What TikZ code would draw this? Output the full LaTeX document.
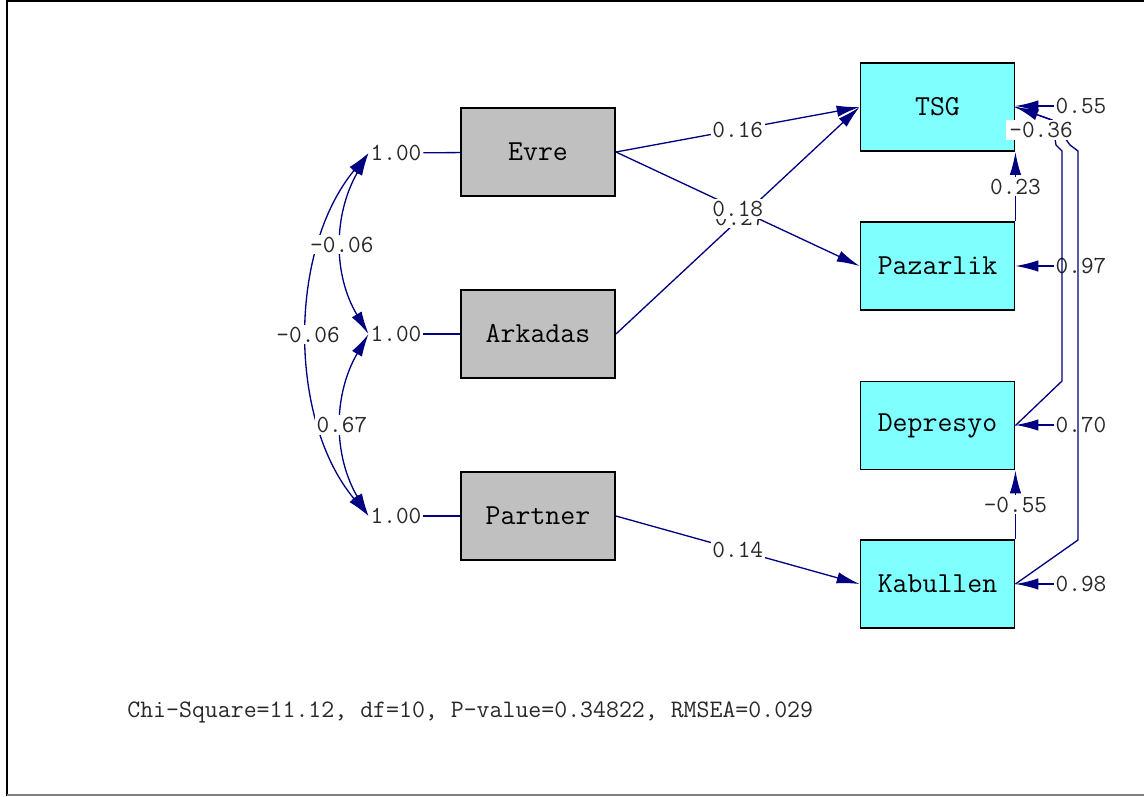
\documentclass[tikz,border=0pt]{standalone}
\usepackage{fontspec}
\usetikzlibrary{arrows.meta}
\definecolor{pathblue}{RGB}{0,0,128}
\definecolor{boxgray}{RGB}{192,192,192}
\definecolor{boxcyan}{RGB}{128,255,255}
\definecolor{numgray}{RGB}{40,40,40}
\begin{document}
\begin{tikzpicture}[x=0.02cm,y=-0.02cm,
  obs/.style={draw=black, line width=1.1pt, minimum width=3.08cm, minimum height=1.76cm,
    font=\ttfamily\fontsize{16.5}{18}\selectfont, inner sep=0pt},
  exo/.style={obs, fill=boxgray},
  endo/.style={obs, fill=boxcyan},
  lab/.style={fill=white, inner sep=1pt, text=numgray, font=\ttfamily\fontsize{14}{16}\selectfont},
  barelab/.style={inner sep=1pt, text=numgray, font=\ttfamily\fontsize{14}{16}\selectfont},
  link/.style={draw=pathblue, line width=0.75pt},
  arr/.style={link, -{Latex[length=13pt,width=6.5pt]}},
  dbl/.style={link, {Latex[length=13pt,width=6.5pt]}-{Latex[length=13pt,width=6.5pt]}},
  back/.style={link, {Latex[length=13pt,width=6.5pt]}-}
]
\useasboundingbox (0,0) rectangle (1144,796);

% frame
\draw[line width=1.2pt] (7,0) -- (7,796);
\draw[line width=1.2pt] (7,1) -- (1144,1);
\draw[line width=1.2pt, gray] (7,795) -- (1144,795);

% observed exogenous variables
\node[exo] (Evre) at (538,152) {Evre};
\node[exo] (Arkadas) at (538,334) {Arkadas};
\node[exo] (Partner) at (538,516) {Partner};

% endogenous variables
\node[endo] (TSG) at (937.5,107) {TSG};
\node[endo] (Pazarlik) at (937.5,266) {Pazarlik};
\node[endo] (Depresyo) at (937.5,425.5) {Depresyo};
\node[endo] (Kabullen) at (937.5,584) {Kabullen};

% variances of exogenous variables
\node[barelab] (v1) at (396,153) {1.00};
\node[barelab] (v2) at (396,334) {1.00};
\node[barelab] (v3) at (396,516) {1.00};
\draw[link] (v1) -- (Evre);
\draw[link] (v2) -- (Arkadas);
\draw[link] (v3) -- (Partner);

% covariances among exogenous variables
\draw[dbl] (v1.west) .. controls (288,250) and (288,420) .. node[lab]{-0.06} (v3.west);
\draw[dbl] (v1.west) .. controls (333,215) and (333,275) .. node[lab]{-0.06} (v2.west);
\draw[dbl] (v2.west) .. controls (333,395) and (333,455) .. node[lab]{0.67} (v3.west);

% structural paths
\draw[arr] (Evre.east) -- node[lab]{0.16} (TSG.west);
\draw[arr] (Arkadas.east) -- node[lab, pos=0.51]{0.27} (TSG.west);
\draw[arr] (Evre.east) -- node[lab]{0.18} (Pazarlik.west);
\draw[arr] (Partner.east) -- node[lab]{0.14} (Kabullen.west);
\draw[arr] (Pazarlik.north east) -- node[lab]{0.23} (TSG.south east);
\draw[arr] (Kabullen.north east) -- node[lab]{-0.55} (Depresyo.south east);

% error variances
\node[barelab] (e1) at (1081,106) {0.55};
\node[barelab] (e2) at (1081,266) {0.97};
\node[barelab] (e3) at (1081,425) {0.70};
\node[barelab] (e4) at (1081,584) {0.98};
\draw[arr] (e1.west) -- (TSG.east |- e1);
\draw[arr] (e2.west) -- (Pazarlik.east |- e2);
\draw[arr] (e3.west) -- (Depresyo.east |- e3);
\draw[arr] (e4.west) -- (Kabullen.east |- e4);

% error covariances
\draw[back] (TSG.east) -- (1052,120) -- (1056,145) -- (1062,151) -- (1062,381) -- (Depresyo.east);
\draw[link] (TSG.east) -- (1052,120) -- (1070,145) -- (1078,151) -- (1078,540) -- (Kabullen.east);
\node[lab, inner xsep=2pt] (c36) at (1041,130) {-0.36};

% fit statistics
\node[anchor=west, inner sep=0pt, text=numgray, font=\ttfamily\fontsize{14.3}{16}\selectfont] (fit) at (127,712)
  {Chi-Square=11.12, df=10, P-value=0.34822, RMSEA=0.029};
\end{tikzpicture}
\end{document}
